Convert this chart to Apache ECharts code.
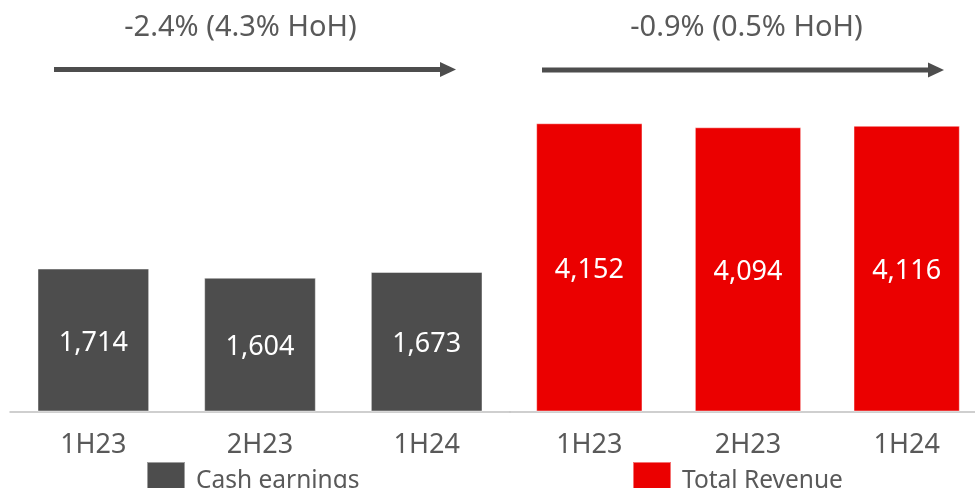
<!DOCTYPE html>
<html>
<head>
<meta charset="utf-8">
<script src="https://cdn.jsdelivr.net/npm/echarts@6/dist/echarts.min.js"></script>
<style>html,body{margin:0;padding:0;background:#fff}#c{width:975px;height:488px}</style>
</head>
<body>
<div id="c"></div>
<script>
var periods = ['1H23', '2H23', '1H24'];
var cashEarnings = [1714, 1604, 1673];
var totalRevenue = [4152, 4094, 4116];
var seriesNames = ['Cash earnings', 'Total Revenue'];
var changeLabels = ['-2.4% (4.3% HoH)', '-0.9% (0.5% HoH)'];

var FONT = '"Noto Sans", "Open Sans", sans-serif';
var GREY = '#4d4d4d';
var RED = '#eb0000';
var TXT = '#595959';

var chart = echarts.init(document.getElementById('c'));

function xAx(idx) {
  return {
    type: 'category', gridIndex: idx, data: periods,
    axisTick: { show: false },
    axisLine: { lineStyle: { color: '#c0c0c0', width: 1.5 } },
    axisLabel: { color: TXT, fontSize: 27, fontFamily: FONT, margin: 20 }
  };
}
function yAx(idx, max) {
  return { type: 'value', gridIndex: idx, min: 0, max: max, show: false, splitLine: { show: false } };
}
function barLabel() {
  return { show: true, position: 'inside', offset: [0, 3], color: '#fff', fontSize: 27, fontFamily: FONT,
    formatter: function (p) { return p.value.toLocaleString('en-US'); } };
}
function arrow(x1, x2, y) {
  return [
    { type: 'line', shape: { x1: x1, y1: y, x2: x2 - 14, y2: y }, style: { stroke: GREY, lineWidth: 5 } },
    { type: 'polygon', shape: { points: [[x2 - 16, y - 7.5], [x2, y], [x2 - 16, y + 7.5]] }, style: { fill: GREY } }
  ];
}
function legendFor(name, left) {
  return { data: [name], left: left, top: 461, padding: 0, itemWidth: 38, itemHeight: 38, icon: 'rect',
    textStyle: { color: TXT, fontSize: 24.5, fontFamily: FONT, padding: [0, 0, 0, 6] } };
}

var option = {
  animation: false,
  grid: [
    { left: 10, width: 500, top: 100, bottom: 76.5, outerBoundsMode: 'none' },
    { left: 510, width: 476, top: 100, bottom: 76.5, outerBoundsMode: 'none' }
  ],
  xAxis: [xAx(0), xAx(1)],
  yAxis: [yAx(0, 3735), yAx(1, 4487)],
  legend: [legendFor(seriesNames[0], 146), legendFor(seriesNames[1], 632)],
  series: [
    { name: seriesNames[0], type: 'bar', xAxisIndex: 0, yAxisIndex: 0, data: cashEarnings, barWidth: '67%',
      itemStyle: { color: GREY, borderColor: 'rgba(255,255,255,0.45)', borderWidth: 1 }, label: barLabel() },
    { name: seriesNames[1], type: 'bar', xAxisIndex: 1, yAxisIndex: 1, data: totalRevenue, barWidth: '67%',
      itemStyle: { color: RED, borderColor: 'rgba(255,255,255,0.45)', borderWidth: 1 }, label: barLabel() }
  ],
  graphic: [
    { type: 'text', x: 240.5, y: 28, style: { text: changeLabels[0], fill: TXT, font: '29px ' + FONT, textAlign: 'center', textVerticalAlign: 'middle' } },
    { type: 'text', x: 746.5, y: 28, style: { text: changeLabels[1], fill: TXT, font: '29px ' + FONT, textAlign: 'center', textVerticalAlign: 'middle' } }
  ].concat(arrow(54, 456, 69.5)).concat(arrow(542, 944, 70))
};
chart.setOption(option);
</script>
</body>
</html>
